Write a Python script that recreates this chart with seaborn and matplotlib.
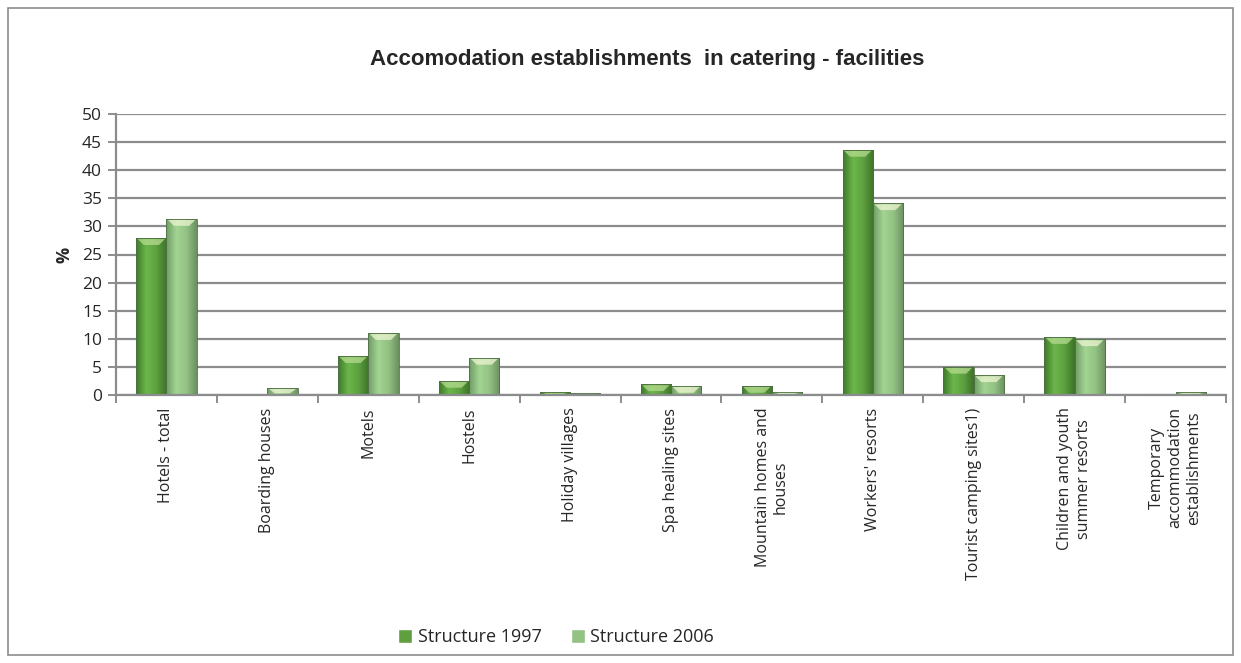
import numpy as np
import pandas as pd
import matplotlib
matplotlib.use("Agg")
import matplotlib.pyplot as plt
from matplotlib.colors import LinearSegmentedColormap
from matplotlib.patches import Rectangle, Polygon
import seaborn as sns

categories = [
    "Hotels - total",
    "Boarding houses",
    "Motels",
    "Hostels",
    "Holiday villages",
    "Spa healing sites",
    "Mountain homes and\nhouses",
    "Workers' resorts",
    "Tourist camping sites1)",
    "Children and youth\nsummer resorts",
    "Temporary\naccommodation\nestablishments",
]
structure_1997 = [27.9, 0.0, 6.9, 2.5, 0.5, 1.9, 1.6, 43.6, 5.0, 10.3, 0.2]
structure_2006 = [31.3, 1.2, 11.0, 6.6, 0.3, 1.6, 0.6, 34.1, 3.5, 9.9, 0.5]
series_names = ["Structure 1997", "Structure 2006"]
y_ticks = list(range(0, 55, 5))

df = pd.DataFrame({
    "category": categories * 2,
    "value": structure_1997 + structure_2006,
    "series": [series_names[0]] * len(categories) + [series_names[1]] * len(categories),
})

sns.set_theme(style="white")
plt.rcParams["font.family"] = ["Open Sans", "DejaVu Sans"]

fig = plt.figure(figsize=(12.41, 6.63), dpi=100)
ax = fig.add_axes([116 / 1241, 1 - 395 / 663, 1110 / 1241, 281 / 663])

palette = {series_names[0]: "#5f9f3f", series_names[1]: "#93c283"}
sns.barplot(data=df, x="category", y="value", hue="series", palette=palette,
            width=0.6, ax=ax, saturation=1, legend=True)

# Shaded fills: darker edges, lighter centre, plus a pale bevel at the top
shades = {
    series_names[0]: ["#3f7a2a", "#6cb64b", "#5da040", "#3e7329"],
    series_names[1]: ["#6f9c65", "#a3d493", "#93c283", "#6b9160"],
}
bevel = {series_names[0]: "#b6dc8f", series_names[1]: "#eef5d2"}
for container, name in zip(ax.containers, series_names):
    cmap = LinearSegmentedColormap.from_list(name, shades[name])
    grad = np.linspace(0, 1, 64).reshape(1, -1)
    for bar in container:
        x0, y0 = bar.get_x(), bar.get_y()
        w, h = bar.get_width(), bar.get_height()
        if h <= 0:
            continue
        im = ax.imshow(grad, cmap=cmap, aspect="auto", extent=(x0, x0 + w, y0, y0 + h),
                       zorder=bar.get_zorder() + 0.1, interpolation="bicubic")
        im.set_clip_path(bar)
        cap = min(h, 1.6)
        top = y0 + h
        hl = Polygon([(x0 + w * 0.05, top - cap * 0.1), (x0 + w * 0.95, top - cap * 0.1),
                      (x0 + w * 0.75, top - cap * 0.75), (x0 + w * 0.25, top - cap * 0.75)],
                     closed=True, facecolor=bevel[name], alpha=0.75, edgecolor="none",
                     zorder=bar.get_zorder() + 0.2)
        ax.add_patch(hl)
        bar.set_facecolor("none")
        bar.set_edgecolor("#4f6f45")
        bar.set_linewidth(0.6)
        bar.set_zorder(bar.get_zorder() + 0.3)

ax.set_xlim(-0.5, len(categories) - 0.5)
ax.set_ylim(0, 50)
ax.set_yticks(y_ticks)
ax.set_yticklabels([str(t) for t in y_ticks], fontsize=12.5)
ax.yaxis.grid(True, color="#8a8c8e", linewidth=1.6)
ax.set_axisbelow(True)

for side in ["top", "right"]:
    ax.spines[side].set_visible(False)
for side in ["left", "bottom"]:
    ax.spines[side].set_color("#8a8c8e")
    ax.spines[side].set_linewidth(1.6)

ax.tick_params(axis="y", which="major", left=True, length=6, width=1.4,
               color="#8a8c8e", pad=4)
ax.set_xticks(range(len(categories)))
ax.set_xticklabels(categories, rotation=90, fontsize=11.5, ha="center", va="top",
                   multialignment="center")
ax.tick_params(axis="x", which="major", bottom=False, pad=3)
ax.set_xticks(np.arange(-0.5, len(categories) + 0.5, 1), minor=True)
ax.tick_params(axis="x", which="minor", bottom=True, length=6, width=1.4, color="#8a8c8e")

ax.set_xlabel("")
ax.set_ylabel("%", fontsize=13, fontweight="bold", labelpad=6)

fig.text(647 / 1241, 1 - 60 / 663, "Accomodation establishments  in catering - facilities",
         ha="center", va="center", fontsize=16, fontweight="bold", family="Liberation Sans")

handles, labels = ax.get_legend_handles_labels()
ax.get_legend().remove()
leg = fig.legend(handles, labels, loc="center", bbox_to_anchor=(556 / 1241, 1 - 637 / 663),
                 ncol=2, frameon=False, fontsize=13, handlelength=0.8, handleheight=0.8,
                 handletextpad=0.3, columnspacing=1.6)

fig.patches.append(Rectangle((8 / 1241, 8 / 663), 1225 / 1241, 647 / 663, transform=fig.transFigure,
                             facecolor="none", edgecolor="#8a8c8e", linewidth=1.2))

fig.savefig("out.png", dpi=100, facecolor="white")
